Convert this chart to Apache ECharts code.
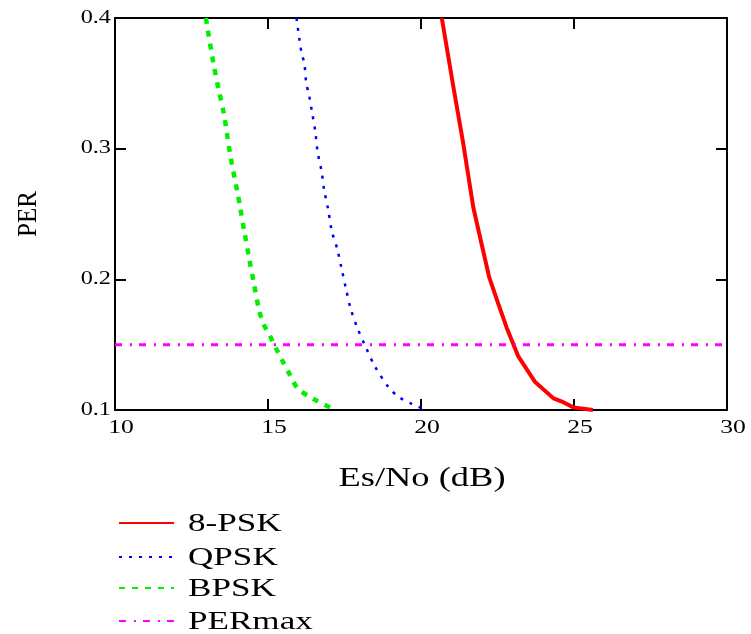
<!DOCTYPE html>
<html lang="en">
<head>
    <meta charset="UTF-8">
    <title>PER vs Es/No</title>
</head>
<body style="margin:0;">
<div id="box" style="width: 751px;height: 634px;"></div>
<script src="https://cdn.jsdelivr.net/npm/echarts@6/dist/echarts.min.js" type="text/javascript"></script>
<script type="text/javascript">
    // 8-PSK
    let psk8X=[20.68,21.06,21.38,21.71,21.98,22.23,22.53,22.80,23.18,23.73,24.33,24.65,24.98,25.62];
    let psk8Y=[0.400,0.347,0.304,0.255,0.227,0.2015,0.181,0.163,0.141,0.1214,0.1089,0.106,0.102,0.100];
    // QPSK
    let qpskX=[15.93,16.05,16.11,16.19,16.25,16.33,16.44,16.55,16.62,16.75,16.84,16.97,17.08,17.27,17.41,17.55,17.70,17.92,18.20,18.50,18.93,19.26,19.70,20.13];
    let qpskY=[0.400,0.380,0.372,0.365,0.350,0.3425,0.3277,0.3124,0.2977,0.2827,0.2677,0.253,0.2374,0.2227,0.2076,0.1926,0.1776,0.1628,0.1479,0.1331,0.1178,0.1102,0.1046,0.1005];
    // BPSK
    let bpskX=[12.97,13.21,13.38,13.56,13.76,14.00,14.08,14.23,14.38,14.54,14.71,14.85,15.07,15.28,15.50,15.72,15.97,16.50,17.08,17.20];
    let bpskY=[0.400,0.366,0.346,0.3265,0.296,0.2667,0.2565,0.236,0.2166,0.1967,0.1763,0.166,0.1565,0.1463,0.1364,0.1267,0.1166,0.1082,0.1013,0.100];
    // PERmax
    let perMaxX=[10,30];
    let perMaxY=[0.15,0.15];

    let xTicks=[10,15,20,25,30];
    let yTicks=[0.1,0.2,0.3,0.4];
    let names=['8-PSK','QPSK','BPSK','PERmax'];

    let pair=(xs,ys)=>xs.map((x,i)=>[x,ys[i]]);
    let font='"Liberation Serif", "DejaVu Serif", serif';
    let stretch=1.35;   // the reference text is drawn wide

    let axisCommon={
        type:'value',
        axisLine:{lineStyle:{color:'#000',width:2}},
        axisTick:{inside:true,length:11,lineStyle:{color:'#000',width:2}},
        axisLabel:{show:false},
        splitLine:{show:false}
    };

    // one legend per row so each row sits where the reference has it
    let legendTops=[516,550,581,614];
    let legends=names.map((n,i)=>({
        orient:'vertical',left:118,top:legendTops[i],padding:0,
        itemWidth:55,itemHeight:14,
        itemStyle:{opacity:0},
        formatter:()=>'',
        textStyle:{fontSize:8},
        data:[n]
    }));

    let chart=echarts.init(document.getElementById('box'));
    let option={
        animation:false,
        textStyle:{fontFamily:font},
        grid:{left:115,right:24,top:18,bottom:224},
        legend:legends,
        xAxis:[
            Object.assign({},axisCommon,{min:xTicks[0],max:xTicks[xTicks.length-1],interval:5}),
            Object.assign({},axisCommon,{position:'top',min:xTicks[0],max:xTicks[xTicks.length-1],interval:5})
        ],
        yAxis:[
            Object.assign({},axisCommon,{min:yTicks[0],max:yTicks[yTicks.length-1],interval:0.1}),
            Object.assign({},axisCommon,{position:'right',min:yTicks[0],max:yTicks[yTicks.length-1],interval:0.1})
        ],
        series:[
            {
                name:names[0],type:'line',symbol:'none',
                lineStyle:{color:'#ff0000',width:4},itemStyle:{color:'#ff0000'},
                data:pair(psk8X,psk8Y)
            },
            {
                name:names[1],type:'line',symbol:'none',smooth:0.3,
                lineStyle:{color:'#0000ff',width:2.5,type:[3,7]},itemStyle:{color:'#0000ff'},
                data:pair(qpskX,qpskY)
            },
            {
                name:names[2],type:'line',symbol:'none',smooth:0.3,
                lineStyle:{color:'#00f000',width:4.5,type:[6,7]},itemStyle:{color:'#00f000'},
                data:pair(bpskX,bpskY)
            },
            {
                name:names[3],type:'line',symbol:'none',
                lineStyle:{color:'#ff00ff',width:3,type:[7,8,2,7]},itemStyle:{color:'#ff00ff'},
                data:pair(perMaxX,perMaxY)
            }
        ]
    };
    chart.setOption(option);

    // texts, placed through the axes and stretched horizontally like the reference
    let texts=[];
    let baseY=chart.convertToPixel({yAxisIndex:0},yTicks[0]);
    xTicks.forEach(v=>{
        texts.push({
            type:'text',x:chart.convertToPixel({xAxisIndex:0},v)+6,y:baseY+18,scaleX:stretch,silent:true,
            style:{text:String(v),font:'19px '+font,fill:'#000',textAlign:'center',textVerticalAlign:'middle'}
        });
    });
    yTicks.forEach(v=>{
        texts.push({
            type:'text',x:111,y:chart.convertToPixel({yAxisIndex:0},v),scaleX:stretch,silent:true,
            style:{text:v.toFixed(1),font:'18px '+font,fill:'#000',textAlign:'right',textVerticalAlign:'middle'}
        });
    });
    texts.push({
        type:'text',x:422,y:479,scaleX:stretch,silent:true,
        style:{text:'Es/No (dB)',font:'27px '+font,fill:'#000',textAlign:'center',textVerticalAlign:'middle'}
    });
    texts.push({
        type:'text',x:29,y:214,rotation:Math.PI/2,scaleY:1.1,silent:true,
        style:{text:'PER',font:'25px '+font,fill:'#000',textAlign:'center',textVerticalAlign:'middle'}
    });
    names.forEach((n,i)=>{
        texts.push({
            type:'text',x:188,y:legendTops[i]+8,scaleX:stretch,silent:true,
            style:{text:n,font:'26px '+font,fill:'#000',textAlign:'left',textVerticalAlign:'middle'}
        });
    });
    chart.setOption({graphic:texts});
</script>
</body>
</html>
